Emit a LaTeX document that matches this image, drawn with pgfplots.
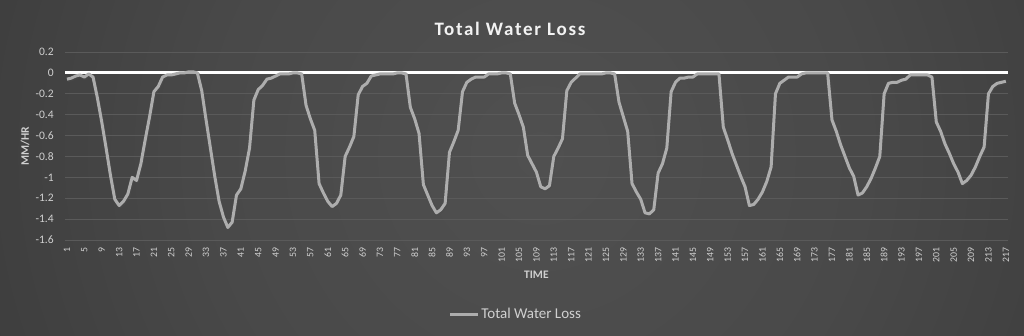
\documentclass[border=0pt]{standalone}
\usepackage{fontspec}
\setmainfont{Carlito}
\usepackage{pgfplots}
\pgfplotsset{compat=1.18}
\definecolor{bgin}{HTML}{505050}
\definecolor{bgb}{HTML}{494949}
\definecolor{bgc}{HTML}{3D3D3D}
\definecolor{bgd}{HTML}{2B2B2B}
\definecolor{bgout}{HTML}{1F1F1F}
\definecolor{gridc}{HTML}{5A5A5A}
\definecolor{serc}{HTML}{ADADAD}
\definecolor{txtc}{HTML}{D0D0D0}
\pgfdeclareradialshading{bgshade}{\pgfpoint{0bp}{0bp}}{color(0bp)=(bgin); color(14bp)=(bgb); color(26bp)=(bgc); color(44bp)=(bgd); color(50bp)=(bgout)}
\pgfplotstableread{
i v
1 -0.06
2 -0.05
3 -0.03
4 -0.02
5 -0.04
6 -0.01
7 -0.04
8 -0.24
9 -0.47
10 -0.72
11 -0.98
12 -1.21
13 -1.27
14 -1.23
15 -1.16
16 -1.00
17 -1.03
18 -0.87
19 -0.64
20 -0.42
21 -0.18
22 -0.13
23 -0.04
24 -0.02
25 -0.02
26 -0.01
27 0
28 0
29 0.01
30 0.01
31 0
32 -0.17
33 -0.45
34 -0.72
35 -0.99
36 -1.23
37 -1.38
38 -1.48
39 -1.43
40 -1.17
41 -1.11
42 -0.94
43 -0.72
44 -0.26
45 -0.16
46 -0.12
47 -0.06
48 -0.05
49 -0.03
50 -0.01
51 -0.01
52 -0.01
53 0
54 0
55 -0.01
56 -0.31
57 -0.44
58 -0.55
59 -1.06
60 -1.15
61 -1.23
62 -1.28
63 -1.25
64 -1.17
65 -0.80
66 -0.71
67 -0.61
68 -0.21
69 -0.13
70 -0.10
71 -0.03
72 -0.02
73 -0.01
74 -0.01
75 -0.01
76 -0.01
77 0
78 0
79 -0.01
80 -0.33
81 -0.44
82 -0.58
83 -1.07
84 -1.17
85 -1.27
86 -1.34
87 -1.31
88 -1.25
89 -0.76
90 -0.66
91 -0.55
92 -0.18
93 -0.09
94 -0.06
95 -0.04
96 -0.04
97 -0.04
98 -0.01
99 -0.01
100 -0.01
101 0
102 0
103 -0.01
104 -0.29
105 -0.40
106 -0.52
107 -0.79
108 -0.87
109 -0.95
110 -1.09
111 -1.11
112 -1.08
113 -0.80
114 -0.72
115 -0.63
116 -0.17
117 -0.09
118 -0.05
119 -0.01
120 -0.01
121 -0.01
122 -0.01
123 -0.01
124 -0.01
125 0
126 0
127 -0.01
128 -0.28
129 -0.42
130 -0.56
131 -1.06
132 -1.14
133 -1.21
134 -1.34
135 -1.35
136 -1.31
137 -0.96
138 -0.87
139 -0.72
140 -0.18
141 -0.09
142 -0.05
143 -0.05
144 -0.04
145 -0.04
146 -0.01
147 -0.01
148 -0.01
149 -0.01
150 -0.01
151 -0.01
152 -0.52
153 -0.64
154 -0.77
155 -0.88
156 -0.99
157 -1.09
158 -1.27
159 -1.26
160 -1.21
161 -1.14
162 -1.04
163 -0.90
164 -0.20
165 -0.10
166 -0.07
167 -0.04
168 -0.04
169 -0.04
170 -0.01
171 0
172 0
173 0
174 0
175 0
176 0
177 -0.45
178 -0.56
179 -0.69
180 -0.80
181 -0.91
182 -0.99
183 -1.17
184 -1.15
185 -1.09
186 -1.01
187 -0.91
188 -0.80
189 -0.20
190 -0.10
191 -0.09
192 -0.09
193 -0.07
194 -0.06
195 -0.02
196 -0.02
197 -0.02
198 -0.02
199 -0.02
200 -0.04
201 -0.47
202 -0.56
203 -0.68
204 -0.77
205 -0.87
206 -0.95
207 -1.06
208 -1.03
209 -0.98
210 -0.90
211 -0.80
212 -0.71
213 -0.20
214 -0.13
215 -0.10
216 -0.09
217 -0.08
}\datatable
\begin{document}
\begin{tikzpicture}
\useasboundingbox (0,0) rectangle (1024pt,335pt);
\begin{scope}
\clip (0,0) rectangle (1024pt,335pt);
\shade[shading=bgshade] (540pt,180pt) circle (580pt);
\end{scope}
\begin{axis}[
  scale only axis,
  width=943.2pt, height=188pt,
  at={(64.8pt,95pt)}, anchor=south west,
  xmin=0.5, xmax=217.5,
  ymin=-1.6, ymax=0.2,
  xtick={1,5,...,217},
  ytick={-1.6,-1.4,-1.2,-1,-0.8,-0.6,-0.4,-0.2,0,0.2},
  yticklabels={-1.6,-1.4,-1.2,-1,-0.8,-0.6,-0.4,-0.2,0,0.2},
  axis line style={draw=none},
  major tick length=0pt,
  ymajorgrids,
  major grid style={draw=gridc, line width=0.9pt},
  /pgf/number format/assume math mode=true,
  /pgf/number format/fixed,
  xticklabel style={rotate=90, anchor=east, font=\fontsize{9.8}{11}\selectfont, text=txtc, inner sep=1pt},
  yticklabel style={font=\fontsize{11.5}{13}\selectfont, text=txtc, anchor=east, inner sep=0pt},
  yticklabel shift=11pt,
  xticklabel shift=6pt,
  title={\addfontfeatures{LetterSpace=9}Total Water Loss},
  title style={at={(0.472,1.091)}, anchor=center, font=\bfseries\fontsize{19}{22}\selectfont, text=white!95!black},
  xlabel={TIME},
  xlabel style={at={(0.5,-0.186)}, anchor=center, font=\bfseries\fontsize{11.5}{13}\selectfont, text=txtc},
  ylabel={MM/HR},
  ylabel style={at={(-0.042,0.5)}, anchor=center, font=\bfseries\fontsize{11.5}{13}\selectfont, text=txtc},
  legend style={at={(0.478,-0.394)}, anchor=center, draw=none, fill=none, font=\fontsize{15}{18}\selectfont, text=txtc, legend cell align=left},
  legend image code/.code={\draw[#1, line width=3pt] (0pt,0pt) -- (28pt,0pt);},
  clip=false,
]
\draw[white, line width=3pt] (axis cs:0.5,0) -- (axis cs:217.5,0);
\addplot[black!70, opacity=0.5, line width=3.5pt, line join=round, mark=none, forget plot, shift={(0.8pt,-1.2pt)}] table[x=i, y=v] {\datatable};
\addplot[serc, line width=3pt, line join=round, mark=none] table[x=i, y=v] {\datatable};
\addlegendentry{Total Water Loss}
\end{axis}
\end{tikzpicture}
\end{document}
